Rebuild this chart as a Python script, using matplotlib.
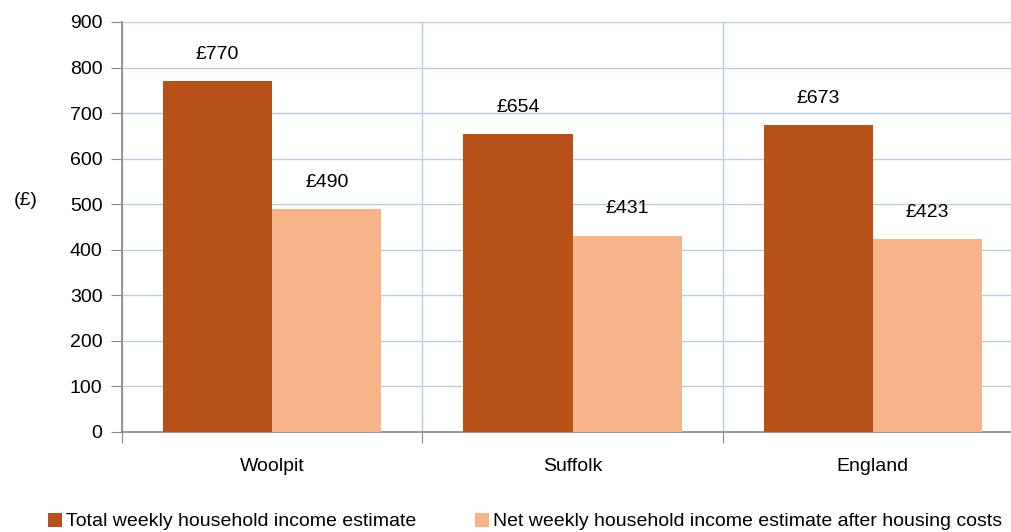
import matplotlib
matplotlib.use("Agg")
import matplotlib.pyplot as plt
import numpy as np

plt.rcParams["font.family"] = ["Liberation Sans", "DejaVu Sans"]

# ── data ──────────────────────────────────────────────────────────────────────
areas = ["Woolpit", "Suffolk", "England"]
total_income = [770, 654, 673]
net_after_housing = [490, 431, 423]
series_names = ["Total weekly household income estimate",
                "Net weekly household income estimate after housing costs"]

DARK = "#B85117"
LIGHT = "#F7B489"
GRID = "#B9CDE5"
AXIS = "#898989"
FS = 14

fig = plt.figure(figsize=(10.11, 5.32), dpi=100, facecolor="white")
ax = fig.add_axes([122 / 1011, 100 / 532, 889 / 1011, 410 / 532])

x = np.arange(len(areas))
w = 1 / 2.75
b1 = ax.bar(x - w / 2, total_income, width=w, color=DARK, zorder=3, label=series_names[0])
b2 = ax.bar(x + w / 2, net_after_housing, width=w, color=LIGHT, zorder=3, label=series_names[1])

for bars, vals in ((b1, total_income), (b2, net_after_housing)):
    for bar, v in zip(bars, vals):
        ax.text(bar.get_x() + bar.get_width() / 2, v + 40, f"£{v}",
                ha="center", va="bottom", fontsize=FS, color="black")

ax.set_yticks(range(0, 901, 100))

# category boundaries as major ticks, labels on minor ticks
ax.set_xticks([-0.5, 0.5, 1.5, 2.5])
ax.set_xticklabels([])
ax.set_xticks(x, minor=True)
ax.set_xticklabels(areas, minor=True, fontsize=FS)
ax.set_ylim(0, 900)
ax.set_xlim(-0.5, 2.5 - 12 / 300)
ax.tick_params(axis="x", which="major", direction="out", length=8, color=AXIS)
ax.tick_params(axis="x", which="minor", length=0, pad=19)
ax.tick_params(axis="y", direction="out", length=8, color=AXIS, labelsize=FS, pad=6)

ax.grid(axis="y", color=GRID, linewidth=1, zorder=0)
ax.grid(axis="x", which="major", color=GRID, linewidth=1, zorder=0)

for s in ("top", "right"):
    ax.spines[s].set_visible(False)
for s in ("left", "bottom"):
    ax.spines[s].set_color(AXIS)
    ax.spines[s].set_linewidth(1.2)

ax.set_ylabel("(£)", rotation=0, fontsize=FS, labelpad=0)
ax.yaxis.set_label_coords(-0.108, 0.545)

fig.legend(handles=[b1, b2], labels=series_names, loc="lower left",
           bbox_to_anchor=(30 / 1011, -16 / 532), ncol=2, frameon=False,
           fontsize=FS, handlelength=0.75, handleheight=0.75, handletextpad=0.2,
           columnspacing=3.0)

fig.savefig("out.png", dpi=100, facecolor="white")
